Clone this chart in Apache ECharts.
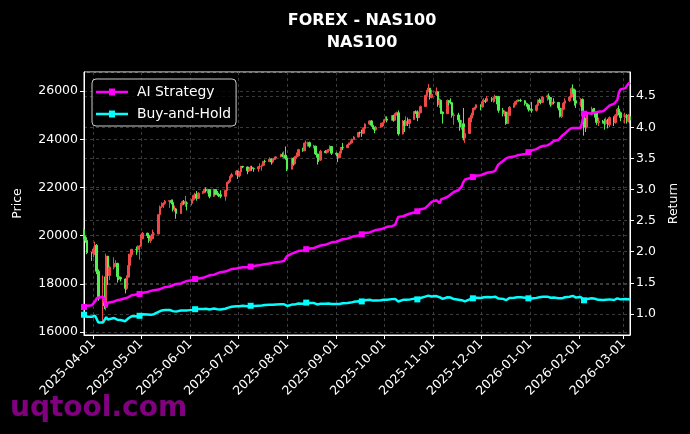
<!DOCTYPE html>
<html><head><meta charset="utf-8">
<script src="https://cdn.jsdelivr.net/npm/echarts@6/dist/echarts.min.js"></script>
<style>html,body{margin:0;padding:0;background:#000;}#c{width:690px;height:434px;}</style>
</head><body><div id="c"></div>
<script>
const titleText = 'FOREX - NAS100';
const subtitleText = 'NAS100';
const priceName = 'Price';
const returnName = 'Return';
const lineNames = ['AI Strategy', 'Buy-and-Hold'];
const watermark = 'uqtool.com';
const firstDay = '2025-03-26';
const lastDay = '2026-03-05';
const priceMin = 15875, priceMax = 26792;
const returnMin = 0.66, returnMax = 4.89;

// daily OHLC (weekdays from firstDay to lastDay)
const open = [
20250,19920,19800,
19290,19280,19440,19600,18520,
17350,17430,17090,19150,18350,
18690,18840,18850,18300,18260,
18200,17810,18280,18760,19210,
19430,19420,19550,19570,19870,
20100,20010,19790,19870,20060,
20070,20870,21200,21320,21340,
21430,21450,21370,21080,21110,
20920,21300,21410,21320,21360,
21340,21490,21670,21720,21550,
21760,21800,21920,21860,21910,
21630,21910,21720,21710,21700,
21630,21870,22190,22240,22450,
22530,22680,22480,22640,22870,
22850,22690,22700,22830,22780,
22770,22860,22880,22920,23080,
23070,23180,23060,23160,23220,
23270,23360,23310,23340,23220,
22760,23210,22980,23270,23310,
23570,23520,23840,23850,23860,
23710,23715,23390,23250,23140,
23500,23450,23530,23570,23700,
23420,23380,23230,23420,23660,
23650,23760,23840,23850,24000,
24090,24280,24270,24250,24450,
24630,24760,24580,24500,24400,
24500,24610,24680,24800,24840,
24790,24980,24790,25060,25100,
24220,24750,24580,24750,24660,
24820,25140,25135,24900,25100,
25360,25820,26010,26120,25740,
25860,25970,25440,25620,25130,
25060,25610,25530,25520,24990,
25010,24800,24500,24640,24050,
24240,24880,25000,25240,25300,
25430,25340,25560,25600,25580,
25690,25630,25680,25780,25770,
25200,25070,25130,24650,24990,
25330,25450,25560,25620,25610,
25600,25480,25420,25250,25240,
25200,25400,25620,25600,25530,
25750,25800,25730,25450,25550,
25530,25300,24950,25250,25500,
25600,25750,26100,26050,25600,
25500,25650,25100,24600,24500,
25050,25250,25150,25100,24700,
24750,24700,24650,24800,24600,
24900,24700,25000,25250,25100,
24900,25000,24750,24950
];
const high = [
20300,20000,19820,
19320,19500,19750,19650,18600,
18350,18300,19250,19150,18750,
19100,18980,18870,18450,18300,
18220,18350,19250,19250,19450,
19550,19600,19600,20050,20150,
20120,20050,20000,20250,20150,
20900,21250,21380,21380,21480,
21480,21500,21500,21250,21150,
21350,21450,21480,21650,21420,
21520,21700,21780,21850,21800,
21850,21950,22000,21950,21920,
21950,21930,21850,21780,21880,
21900,22220,22300,22480,22600,
22720,22700,22660,22900,22900,
22870,22780,22900,22900,22830,
22880,23000,22950,23100,23150,
23250,23200,23180,23280,23300,
23400,23450,23500,23700,23230,
23230,23250,23300,23450,23600,
23650,23860,23950,23900,23900,
23770,23730,23400,23300,23560,
23550,23560,23600,23750,23710,
23450,23390,23500,23680,23850,
23800,23860,23950,24020,24130,
24300,24320,24400,24500,24660,
24780,24800,24650,24510,24550,
24680,24700,24820,24950,24950,
25000,25020,25080,25150,25200,
24800,24800,24950,24900,24850,
25160,25200,25200,25130,25400,
25850,26050,26290,26130,26050,
26150,25980,25700,25650,25150,
25650,25620,25700,25530,25100,
25100,24820,24800,25300,24500,
24900,25100,25300,25350,25450,
25450,25650,25700,25700,25800,
25750,25750,25850,25800,25800,
25300,25200,25150,25150,25380,
25500,25600,25650,25640,25680,
25620,25520,25450,25280,25550,
25450,25650,25700,25650,25780,
25850,25900,25750,25650,25700,
25540,25320,25300,25550,25700,
25800,26150,26280,26100,25700,
25700,25700,25150,24900,25100,
25350,25300,25300,25150,24900,
24800,24850,24900,24850,24950,
24950,25050,25300,25400,25150,
25100,25050,25050,25000
];
const low = [
19850,19700,19230,
18950,19100,19200,18400,17300,
16380,16950,16900,17950,18150,
18600,18700,18050,18150,18100,
17600,17750,18250,18700,19100,
19200,19300,19000,19560,19850,
19900,19700,19700,19850,19950,
20050,20850,21150,21150,21280,
21150,21300,21000,21000,20700,
20900,21250,21280,21200,21050,
21250,21450,21650,21450,21540,
21720,21760,21800,21750,21550,
21620,21680,21650,21600,21550,
21450,21860,22150,22230,22400,
22500,22350,22420,22620,22800,
22550,22640,22690,22700,22650,
22650,22850,22700,22900,23030,
23060,22950,23000,23140,23180,
23250,23250,23200,23150,22680,
22740,22900,22950,23200,23290,
23480,23510,23780,23700,23650,
23620,23350,22950,23060,23100,
23420,23400,23450,23550,23350,
23300,23050,23220,23400,23550,
23640,23700,23780,23830,23980,
24080,24200,24100,24240,24430,
24600,24520,24430,24250,24350,
24480,24500,24550,24780,24700,
24780,24730,24780,24980,24150,
24200,24300,24550,24550,24450,
24800,25050,24750,24880,25080,
25350,25800,25950,25650,25700,
25800,25350,25300,25050,24650,
25050,25400,25450,24900,24600,
24700,24350,24400,23950,23850,
24230,24700,24980,25200,25280,
25200,25330,25400,25500,25560,
25550,25520,25550,25450,25100,
24950,24950,24600,24630,24980,
25300,25400,25540,25590,25550,
25400,25350,25150,25200,25100,
25150,25380,25500,25450,25500,
25600,25650,25350,25400,25450,
25200,24900,24880,25200,25450,
25550,25720,25900,25400,25300,
25350,24800,24150,24300,24450,
25000,25050,24900,24600,24550,
24650,24400,24600,24450,24500,
24550,24650,24950,25000,24750,
24650,24650,24700,24650
];
const close = [
19920,19800,19290,
19280,19440,19600,18520,17400,
17430,17090,19150,18350,18690,
18840,18850,18300,18260,18200,
17810,18280,18760,19210,19430,
19420,19550,19570,19870,20100,
20010,19790,19870,20060,20070,
20870,21200,21320,21340,21430,
21450,21370,21080,21110,20920,
21300,21410,21320,21360,21340,
21490,21670,21720,21550,21760,
21800,21920,21860,21910,21630,
21910,21720,21710,21700,21630,
21870,22190,22240,22450,22530,
22680,22480,22640,22870,22850,
22690,22700,22830,22780,22770,
22860,22880,22920,23080,23070,
23180,23060,23160,23220,23270,
23360,23310,23340,23220,22760,
23210,22980,23270,23310,23570,
23520,23840,23850,23860,23710,
23715,23390,23250,23140,23500,
23450,23530,23570,23700,23420,
23380,23230,23420,23660,23650,
23760,23840,23850,24000,24090,
24280,24270,24250,24450,24630,
24760,24580,24500,24400,24500,
24610,24680,24800,24840,24790,
24980,24790,25060,25100,24220,
24750,24580,24750,24660,24820,
25140,25135,24900,25100,25360,
25820,26010,26120,25740,25860,
25970,25440,25620,25130,25060,
25610,25530,25520,24990,25010,
24800,24500,24640,24050,24240,
24880,25000,25240,25300,25430,
25340,25560,25600,25580,25690,
25630,25680,25780,25770,25200,
25070,25130,24650,24990,25330,
25450,25560,25620,25610,25600,
25480,25420,25250,25240,25200,
25400,25620,25600,25530,25750,
25800,25730,25450,25550,25530,
25300,24950,25250,25500,25600,
25750,26100,26050,25600,25500,
25650,25100,24600,24500,25050,
25250,25150,25100,24700,24750,
24700,24650,24800,24600,24900,
24700,25000,25250,25100,24900,
25000,24750,24950,24800
];
const aiStrategy = [
1.11,1.12,1.13,
1.14,1.16,1.20,1.25,1.27,
1.28,1.27,1.10,1.18,1.19,
1.20,1.21,1.22,1.23,1.23,
1.25,1.26,1.27,1.28,1.30,
1.31,1.32,1.32,1.33,1.34,
1.35,1.36,1.37,1.38,1.38,
1.39,1.40,1.41,1.42,1.43,
1.44,1.45,1.46,1.47,1.48,
1.49,1.50,1.51,1.52,1.53,
1.54,1.55,1.56,1.56,1.57,
1.58,1.59,1.60,1.61,1.62,
1.63,1.64,1.65,1.66,1.67,
1.68,1.69,1.70,1.71,1.72,
1.73,1.73,1.74,1.74,1.75,
1.75,1.76,1.76,1.77,1.77,
1.78,1.78,1.79,1.79,1.80,
1.81,1.81,1.82,1.82,1.83,
1.84,1.84,1.85,1.86,1.93,
1.97,1.98,1.99,2.00,2.01,
2.02,2.03,2.04,2.04,2.05,
2.06,2.07,2.08,2.09,2.10,
2.11,2.12,2.13,2.14,2.15,
2.16,2.17,2.18,2.19,2.20,
2.21,2.22,2.23,2.24,2.25,
2.26,2.27,2.28,2.29,2.30,
2.31,2.32,2.33,2.34,2.35,
2.36,2.37,2.38,2.39,2.40,
2.41,2.42,2.43,2.50,2.56,
2.57,2.58,2.59,2.60,2.61,
2.63,2.64,2.65,2.66,2.68,
2.70,2.72,2.75,2.78,2.80,
2.83,2.82,2.78,2.84,2.86,
2.88,2.90,2.92,2.94,2.96,
2.99,3.00,3.05,3.12,3.16,
3.18,3.19,3.20,3.21,3.22,
3.23,3.24,3.25,3.26,3.27,
3.28,3.29,3.30,3.31,3.40,
3.46,3.48,3.50,3.51,3.52,
3.53,3.54,3.55,3.55,3.56,
3.57,3.59,3.60,3.61,3.63,
3.65,3.67,3.68,3.69,3.70,
3.71,3.72,3.74,3.76,3.78,
3.80,3.83,3.86,3.88,3.90,
3.97,4.00,3.99,3.98,3.99,
3.99,4.00,4.22,4.23,4.23,
4.22,4.23,4.24,4.24,4.25,
4.26,4.28,4.30,4.32,4.35,
4.38,4.41,4.44,4.56,4.61,
4.63,4.66,4.70,4.72
];
const buyHold = [
0.986,0.980,0.955,
0.954,0.962,0.970,0.917,0.861,
0.863,0.846,0.948,0.908,0.925,
0.933,0.933,0.906,0.904,0.901,
0.882,0.905,0.929,0.951,0.962,
0.961,0.968,0.969,0.984,0.995,
0.991,0.980,0.984,0.993,0.994,
1.033,1.050,1.055,1.056,1.061,
1.062,1.058,1.044,1.045,1.036,
1.054,1.060,1.055,1.057,1.056,
1.064,1.073,1.075,1.067,1.077,
1.079,1.085,1.082,1.085,1.071,
1.085,1.075,1.075,1.074,1.071,
1.083,1.099,1.101,1.111,1.115,
1.123,1.113,1.121,1.132,1.131,
1.123,1.124,1.130,1.128,1.127,
1.132,1.133,1.135,1.143,1.142,
1.148,1.142,1.147,1.150,1.152,
1.156,1.154,1.155,1.150,1.127,
1.149,1.138,1.152,1.154,1.167,
1.164,1.180,1.181,1.181,1.174,
1.174,1.158,1.151,1.146,1.163,
1.161,1.165,1.167,1.173,1.159,
1.157,1.150,1.159,1.171,1.171,
1.176,1.180,1.181,1.188,1.193,
1.202,1.201,1.200,1.210,1.219,
1.226,1.217,1.213,1.208,1.213,
1.218,1.222,1.228,1.230,1.227,
1.237,1.227,1.241,1.243,1.199,
1.225,1.217,1.225,1.221,1.229,
1.245,1.244,1.233,1.243,1.255,
1.278,1.288,1.293,1.274,1.280,
1.286,1.259,1.268,1.244,1.241,
1.268,1.264,1.263,1.237,1.238,
1.228,1.213,1.220,1.191,1.200,
1.232,1.238,1.250,1.252,1.259,
1.254,1.265,1.267,1.266,1.272,
1.269,1.271,1.276,1.276,1.248,
1.241,1.244,1.220,1.237,1.254,
1.260,1.265,1.268,1.268,1.267,
1.261,1.258,1.250,1.250,1.248,
1.257,1.268,1.267,1.264,1.275,
1.277,1.274,1.260,1.265,1.264,
1.252,1.235,1.250,1.262,1.267,
1.275,1.292,1.290,1.267,1.262,
1.270,1.243,1.218,1.213,1.240,
1.250,1.245,1.243,1.223,1.225,
1.223,1.220,1.228,1.218,1.233,
1.223,1.238,1.250,1.243,1.233,
1.238,1.225,1.235,1.228
];
const markerEvery = 25;

function weekdays(a, b) {
  const out = [];
  const [y1, m1, d1] = a.split('-').map(Number);
  const [y2, m2, d2] = b.split('-').map(Number);
  const d = new Date(y1, m1 - 1, d1);
  const e = new Date(y2, m2 - 1, d2);
  while (d <= e) {
    const w = d.getDay();
    if (w !== 0 && w !== 6) out.push(new Date(d.getTime()));
    d.setDate(d.getDate() + 1);
  }
  return out;
}
const days = weekdays(firstDay, lastDay).map(d => d.getTime());
const pad = n => (n < 10 ? '0' : '') + n;
const fmtDate = v => { const d = new Date(v); return d.getFullYear() + '-' + pad(d.getMonth() + 1) + '-' + pad(d.getDate()); };
const toLocal = s => { const [y, m, d] = s.split('-').map(Number); return new Date(y, m - 1, d).getTime(); };

const candleData = days.map((t, i) => [t, open[i], close[i], low[i], high[i]]);
const aiData = days.map((t, i) => [t, aiStrategy[i]]);
const bhData = days.map((t, i) => [t, buyHold[i]]);

const FONT = 'DejaVu Sans';
const markerSymbol = (v, p) => (p.dataIndex % markerEvery === 0 ? 'rect' : 'none');
const legendIcon = 'path://M0,2.25L13,2.25L13,0L19,0L19,2.25L32,2.25L32,4.75L19,4.75L19,7L13,7L13,4.75L0,4.75Z';

const chart = echarts.init(document.getElementById('c'), null, { renderer: 'canvas' });
chart.setOption({
  backgroundColor: '#000000',
  animation: false,
  title: [
    { text: titleText, left: 357, top: 8, textAlign: 'center',
      textStyle: { color: '#ffffff', fontFamily: FONT, fontWeight: 'bold', fontSize: 16 } },
    { text: subtitleText, left: 357, top: 30, textAlign: 'center',
      textStyle: { color: '#ffffff', fontFamily: FONT, fontWeight: 'bold', fontSize: 16 } }
  ],
  legend: {
    data: [{ name: lineNames[0], icon: legendIcon }, { name: lineNames[1], icon: legendIcon }],
    orient: 'vertical', left: 92, top: 79,
    itemWidth: 32, itemHeight: 7, itemGap: 8,
    padding: [6, 5, 5, 4],
    backgroundColor: 'rgba(0,0,0,0.8)', borderColor: '#cccccc', borderWidth: 1, borderRadius: 4,
    textStyle: { color: '#ffffff', fontFamily: FONT, fontSize: 13.9, padding: [0, 0, 0, 4] }
  },
  grid: { left: 84, right: 60, top: 72, bottom: 99, show: true, borderColor: '#ffffff', borderWidth: 1, backgroundColor: 'transparent' },
  xAxis: {
    type: 'time', min: toLocal(firstDay), max: toLocal(lastDay),
    splitNumber: 12,
    axisLine: { show: true, lineStyle: { color: '#ffffff', width: 1 } },
    axisTick: { show: true, inside: false, length: 4, lineStyle: { color: '#ffffff' } },
    axisLabel: { color: '#ffffff', fontFamily: FONT, fontSize: 12.5, rotate: 45, margin: 7,
      formatter: v => fmtDate(v), showMinLabel: false, showMaxLabel: false },
    splitLine: { show: true, lineStyle: { color: '#4a4a4a', type: [3, 3], width: 0.8 } }
  },
  yAxis: [
    { type: 'value', position: 'left', min: priceMin, max: priceMax, splitNumber: 5,
      name: priceName, nameLocation: 'middle', nameGap: 60, nameRotate: 90,
      nameTextStyle: { color: '#ffffff', fontFamily: FONT, fontSize: 12.5 },
      axisLine: { show: true, lineStyle: { color: '#ffffff' } },
      axisTick: { show: true, length: 4, lineStyle: { color: '#ffffff' } },
      axisLabel: { color: '#ffffff', fontFamily: FONT, fontSize: 12.5, margin: 6, showMinLabel: false, showMaxLabel: false,
        formatter: v => String(Math.round(v)) },
      splitLine: { show: true, lineStyle: { color: '#4a4a4a', type: [3, 3], width: 0.8 } } },
    { type: 'value', position: 'right', min: returnMin, max: returnMax, splitNumber: 8,
      name: returnName, nameLocation: 'middle', nameGap: 36, nameRotate: 90,
      nameTextStyle: { color: '#ffffff', fontFamily: FONT, fontSize: 12.5 },
      axisLine: { show: true, lineStyle: { color: '#ffffff' } },
      axisTick: { show: true, length: 4, lineStyle: { color: '#ffffff' } },
      axisLabel: { color: '#ffffff', fontFamily: FONT, fontSize: 12.5, margin: 6, showMinLabel: false, showMaxLabel: false,
        formatter: v => v.toFixed(1) },
      splitLine: { show: true, lineStyle: { color: '#4a4a4a', type: [3, 3], width: 0.8 } } }
  ],
  series: [
    { type: 'candlestick', name: subtitleText, yAxisIndex: 0, data: candleData, barWidth: 2, z: 2,
      itemStyle: { color: '#f04848', color0: '#52ee52', borderColor: '#f04848', borderColor0: '#52ee52', borderWidth: 1 } },
    { type: 'line', name: lineNames[0], yAxisIndex: 1, data: aiData, z: 4,
      symbol: markerSymbol, symbolSize: 6, showAllSymbol: true,
      lineStyle: { color: '#ff00ff', width: 2.5 }, itemStyle: { color: '#ff00ff' } },
    { type: 'line', name: lineNames[1], yAxisIndex: 1, data: bhData, z: 3,
      symbol: markerSymbol, symbolSize: 6, showAllSymbol: true,
      lineStyle: { color: '#00ffff', width: 2.5 }, itemStyle: { color: '#00ffff' } }
  ],
  graphic: [
    { type: 'text', left: 10, top: 395, z: 100,
      style: { text: watermark, fill: '#800080', font: 'bold 28px "DejaVu Sans"' } }
  ]
});
</script>
</body></html>
